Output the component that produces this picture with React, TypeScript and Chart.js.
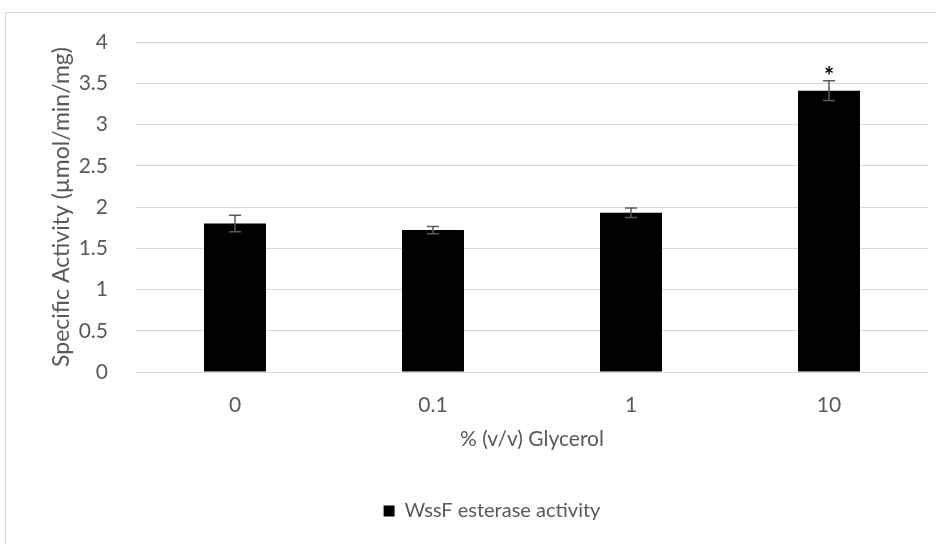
import React, { useEffect, useRef } from "react";
import { Chart, registerables } from "chart.js";

Chart.register(...registerables);

// Glycerol concentration (% v/v) and measured specific activity
const categories = ["0", "0.1", "1", "10"];
const activity = [1.8, 1.72, 1.93, 3.41];
const errors = [0.1, 0.045, 0.057, 0.12];
const significance = ["", "", "", "*"];
const seriesLabel = "WssF esterase activity";
const xTitle = "% (v/v) Glycerol";
const yTitle = "Specific Activity (µmol/min/mg)";
const yMax = 4;
const yStep = 0.5;

const FONT = "Lato, 'Open Sans', sans-serif";
const TEXT = "#595959";
const GRID = "#d9d9d9";
const LEGEND_SHIFT = 28;

// Frame, error bars and significance markers
const decorations = {
  id: "decorations",
  afterLayout(chart: any) {
    // the legend sits a little right of the canvas centre
    if (chart.legend) {
      chart.legend.left += LEGEND_SHIFT;
      chart.legend.right += LEGEND_SHIFT;
    }
  },
  beforeDraw(chart: any) {
    const { ctx, width, height } = chart;
    ctx.save();
    ctx.fillStyle = "#ffffff";
    ctx.fillRect(0, 0, width, height);
    ctx.strokeStyle = GRID;
    ctx.lineWidth = 1;
    ctx.strokeRect(5.5, 12.5, width + 20, height + 20);
    ctx.restore();
  },
  afterDatasetsDraw(chart: any) {
    const { ctx } = chart;
    const xs = chart.scales.x;
    const ys = chart.scales.y;
    ctx.save();
    activity.forEach((v, i) => {
      const x = xs.getPixelForValue(i);
      const top = ys.getPixelForValue(v + errors[i]);
      const bot = ys.getPixelForValue(v - errors[i]);
      ctx.strokeStyle = "#595959";
      ctx.lineWidth = 1.5;
      ctx.beginPath();
      ctx.moveTo(x, top);
      ctx.lineTo(x, bot);
      ctx.moveTo(x - 6, top);
      ctx.lineTo(x + 6, top);
      ctx.moveTo(x - 6, bot);
      ctx.lineTo(x + 6, bot);
      ctx.stroke();
      if (significance[i]) {
        ctx.fillStyle = "#000000";
        ctx.font = `bold 24px ${FONT}`;
        ctx.textAlign = "center";
        ctx.textBaseline = "alphabetic";
        ctx.fillText(significance[i], x, top + 4);
      }
    });
    ctx.restore();
  },
};

export default function App() {
  const ref = useRef<HTMLCanvasElement>(null);

  useEffect(() => {
    if (!ref.current) return;
    const chart = new Chart(ref.current, {
      type: "bar",
      data: {
        labels: categories,
        datasets: [
          {
            label: seriesLabel,
            data: activity,
            backgroundColor: "#000000",
            borderWidth: 0,
            barPercentage: 0.313,
            categoryPercentage: 1,
          },
        ],
      },
      options: {
        responsive: false,
        animation: false,
        devicePixelRatio: 1,
        layout: { padding: { top: 42, right: 8, bottom: 13, left: 0 } },
        plugins: {
          tooltip: { enabled: false },
          legend: {
            position: "bottom",
            labels: {
              color: TEXT,
              font: { family: FONT, size: 20 },
              boxWidth: 11,
              boxHeight: 11,
              padding: 8,
            },
          },
        },
        scales: {
          x: {
            grid: { display: false },
            border: { display: false },
            ticks: {
              color: TEXT,
              font: { family: FONT, size: 21 },
              padding: 13,
            },
            title: {
              display: true,
              text: xTitle,
              color: TEXT,
              font: { family: FONT, size: 21 },
              padding: { top: 0, bottom: 41 },
            },
            afterFit(axis: any) {
              axis.height = 121;
            },
          },
          y: {
            min: 0,
            max: yMax,
            grid: { color: GRID, lineWidth: 1, drawTicks: false },
            border: { display: false },
            ticks: {
              stepSize: yStep,
              color: TEXT,
              font: { family: FONT, size: 21 },
              padding: 28,
              callback: (value: any) => String(Number(value)),
            },
            title: {
              display: true,
              text: yTitle,
              color: TEXT,
              font: { family: FONT, size: 23 },
              padding: { top: 48, bottom: 0 },
            },
            afterFit(axis: any) {
              axis.width = 136;
            },
          },
        },
      },
      plugins: [decorations],
    });
    return () => chart.destroy();
  }, []);

  return (
    <div style={{ position: "absolute", left: 0, top: 0, width: 936, height: 544, background: "#fff" }}>
      <canvas ref={ref} width={936} height={544} />
    </div>
  );
}
